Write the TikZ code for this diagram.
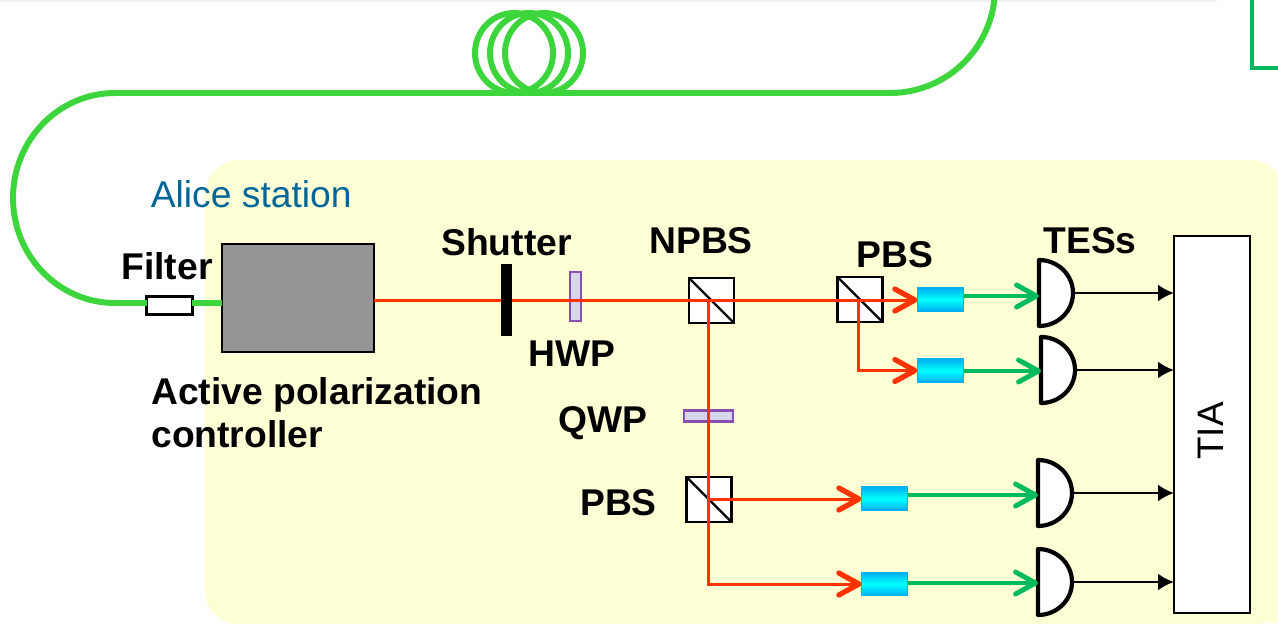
\documentclass[tikz,border=0pt]{standalone}
\usepackage{fontspec}
\setmainfont{Liberation Sans}
\usetikzlibrary{arrows.meta}

\definecolor{fibergreen}{HTML}{3CD63C}
\definecolor{linkgreen}{HTML}{00BA5E}
\definecolor{beamred}{HTML}{FF3300}
\definecolor{stationyellow}{HTML}{FFFFD5}
\definecolor{platepurple}{HTML}{8A4DB0}
\definecolor{platefill}{HTML}{D6D6F0}
\definecolor{couplerblue}{HTML}{00B0F0}
\definecolor{aliceblue}{HTML}{006699}

\tikzset{
  lbl/.style={font=\bfseries\fontsize{21.2}{25}\selectfont,inner sep=0pt},
  cube/.style={draw=black,fill=white,line width=1.3pt,minimum size=0.9cm,inner sep=0pt,outer sep=0pt},
  plate/.style={draw=platepurple,fill=platefill,line width=1.2pt,inner sep=0pt,outer sep=0pt},
  coupler/.style={draw=couplerblue,line width=0.8pt,top color=couplerblue,bottom color=couplerblue,middle color=cyan,minimum width=0.92cm,minimum height=0.46cm,inner sep=0pt,outer sep=0pt},
  fiber/.style={draw=fibergreen,line width=3.4pt},
  redbeam/.style={draw=beamred,line width=1.7pt},
  redarrow/.style={redbeam,-{Straight Barb[length=0.4cm,width=0.44cm,line width=3pt,round]}},
  greenarrow/.style={draw=linkgreen,line width=2.2pt,-{Straight Barb[length=0.4cm,width=0.44cm,line width=2.8pt,round]}},
  blackarrow/.style={draw=black,line width=1.4pt,-{Latex[length=0.32cm,width=0.34cm]}}
}

\newcommand{\tes}[4]{
  \draw[fill=white,line width=2.4pt,line join=round] (#2,#3-33) arc[start angle=-90,end angle=90,x radius=34,y radius=33] -- cycle;
  \coordinate (#1in) at (#2,#4);
  \coordinate (#1out) at (#2+34,#3);
}

\begin{document}
\begin{tikzpicture}[x=0.02cm,y=-0.02cm]
\path[use as bounding box,clip] (0,0) rectangle (1278,623);

\fill[white] (0,0) rectangle (1278,623);
\fill[black!5] (0,0) rectangle (1217,2);
\draw[draw=linkgreen,line width=2.6pt] (1290,68) -- (1252,68) -- (1252,-5);
\fill[stationyellow,rounded corners=0.7cm] (205,160) rectangle (1285,625);
\fill[stationyellow] (1200,400) rectangle (1278,623);

\coordinate (fiberend) at (115,303);
\draw[fiber] (fiberend) arc[start angle=90,end angle=270,x radius=102,y radius=105] -- (890,93) arc[start angle=90,end angle=0,radius=105];
\foreach \cx in {514,529,544}
  \draw[fiber] (\cx,53) ellipse[x radius=39,y radius=40];

\node[draw=black,fill=black!41,line width=1.4pt,minimum width=3.04cm,minimum height=2.16cm,inner sep=0pt,outer sep=0pt] (apc) at (298,298) {};
\node[draw=black,fill=white,line width=1.2pt,minimum width=0.92cm,minimum height=0.36cm,inner sep=0pt,outer sep=0pt] (filter) at (169.5,305.5) {};
\draw[fiber] (fiberend) -- (filter.west |- fiberend);
\draw[fiber] (filter.east |- fiberend) -- (apc.west |- fiberend);

\node[plate,minimum width=0.22cm,minimum height=0.98cm] (hwp) at (575.5,296.5) {};
\node[plate,minimum width=0.98cm,minimum height=0.22cm] (qwp) at (708.5,416) {};
\node[cube] (npbs) at (711.5,300.5) {};
\node[cube] (pbsa) at (860,299.5) {};
\node[cube] (pbsb) at (709,499.5) {};
\foreach \c in {npbs,pbsa,pbsb}
  \draw[line width=1.3pt] (\c.north west) -- (\c.south east);

\node[fill=black,minimum width=0.22cm,minimum height=1.44cm,inner sep=0pt,outer sep=0pt] (shutter) at (506.5,300) {};

\node[coupler] (cpa) at (940.5,299.5) {};
\node[coupler] (cpb) at (940.5,370.5) {};
\node[coupler] (cpc) at (884.5,498.5) {};
\node[coupler] (cpd) at (884.5,584) {};

\node[draw=black,fill=white,line width=1.4pt,minimum width=1.52cm,minimum height=7.54cm,inner sep=0pt,outer sep=0pt] (tia) at (1212,424.5) {};
\node[rotate=90,font=\fontsize{21}{25}\selectfont,inner sep=0pt] (tialbl) at (1211,431) {TIA};

\tes{tesa}{1039}{293}{296}
\tes{tesb}{1041}{370}{371}
\tes{tesc}{1038}{493}{495}
\tes{tesd}{1038}{582}{583}

\coordinate (splita) at (708,300);
\coordinate (splitb) at (858,300);
\coordinate (splitc) at (708,499);

\draw[redbeam] (apc.east |- shutter) -- (shutter.west);
\draw[redbeam] (shutter.east) -- (splitb);
\draw[redarrow] (splitb) -- (splitb -| cpa.west);
\draw[redarrow] (splitb) |- (cpb.west);
\draw[redbeam] (splita) -- (splitc);
\draw[redarrow] (splitc) -- (splitc -| cpc.west);
\draw[redarrow] (splitc) |- (cpd.west);

\draw[greenarrow] (cpa.east |- tesain) -- (tesain);
\draw[greenarrow] (cpb.east |- tesbin) -- (tesbin);
\draw[greenarrow] (cpc.east |- tescin) -- (tescin);
\draw[greenarrow] (cpd.east |- tesdin) -- (tesdin);

\draw[blackarrow] (tesaout) -- (tia.west |- tesaout);
\draw[blackarrow] (tesbout) -- (tia.west |- tesbout);
\draw[blackarrow] (tescout) -- (tia.west |- tescout);
\draw[blackarrow] (tesdout) -- (tia.west |- tesdout);

\node[font=\fontsize{21.2}{25}\selectfont,text=aliceblue,inner sep=0pt,anchor=west] (alice) at (150.5,194.5) {Alice station};
\node[lbl] (filterlbl) at (167,266) {Filter};
\node[lbl] (shutterlbl) at (506.5,242) {Shutter};
\node[lbl] (npbslbl) at (701,241) {NPBS};
\node[lbl] (pbsalbl) at (895,255) {PBS};
\node[lbl] (teslbl) at (1090,241) {TESs};
\node[lbl] (hwplbl) at (572,353.5) {HWP};
\node[lbl] (qwplbl) at (603,423) {QWP};
\node[lbl] (pbsblbl) at (618.5,502.5) {PBS};
\node[lbl,anchor=west] (apclbla) at (151,395) {Active polarization};
\node[lbl,anchor=west] (apclblb) at (151,434) {controller};
\end{tikzpicture}
\end{document}
